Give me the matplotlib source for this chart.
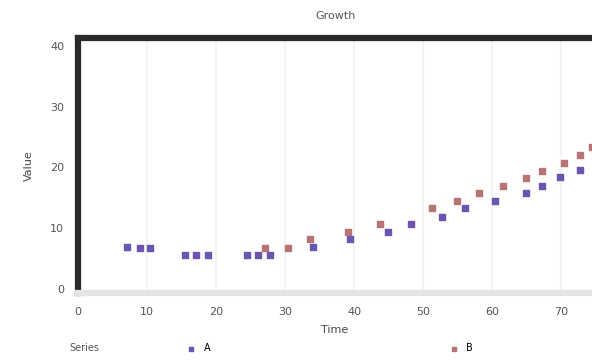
import matplotlib.pyplot as plt

# two series sampled along the x axis
x_a = [7.1, 9.0, 10.4, 15.5, 17.1, 18.8, 24.5, 26.1, 27.8, 34.1, 39.4, 44.9,
       48.3, 52.8, 56.1, 60.4, 64.9, 67.2, 69.9, 72.8]
y_a = [6.9, 6.7, 6.7, 5.6, 5.6, 5.6, 5.6, 5.6, 5.6, 6.9, 8.2, 9.4,
       10.7, 11.9, 13.3, 14.5, 15.8, 17.0, 18.4, 19.6]
x_b = [27.1, 30.4, 33.6, 39.1, 43.8, 51.3, 54.9, 58.1, 61.6, 64.9, 67.2,
       70.4, 72.8, 74.5]
y_b = [6.7, 6.7, 8.2, 9.4, 10.7, 13.3, 14.5, 15.8, 17.0, 18.3, 19.4,
       20.7, 22.1, 23.4]
labels = ["A", "B"]
xticks = [0, 10, 20, 30, 40, 50, 60, 70]
yticks = [0, 10, 20, 30, 40]

fig = plt.figure(figsize=(5.92, 3.6), dpi=100)
ax = fig.add_axes([0.132, 0.186, 0.868, 0.708])

ax.scatter(x_a, y_a, s=20, color="#6a55b0", marker="s", label=labels[0], zorder=3)
ax.scatter(x_b, y_b, s=20, color="#b87474", marker="s", label=labels[1], zorder=3)

ax.set_xlim(0, 74.5)
ax.set_ylim(-0.7, 41.3)
ax.set_xticks(xticks)
ax.set_yticks(yticks)
ax.grid(axis="x", color="#f3f3f3", linewidth=1.5)
ax.set_axisbelow(True)

for side in ["left", "top"]:
    ax.spines[side].set_color("#2a2a2a")
    ax.spines[side].set_linewidth(4.5)
ax.spines["bottom"].set_color("#e4e4e4")
ax.spines["bottom"].set_linewidth(4.5)
ax.spines["right"].set_visible(False)
ax.tick_params(length=0, labelsize=8, colors="#555555", pad=10)

ax.set_title("Growth", fontsize=8, color="#555555", pad=14)
ax.set_xlabel("Time", fontsize=8, color="#444444", labelpad=6)
ax.set_ylabel("Value", fontsize=8, color="#444444", labelpad=12)

# legend laid out in one row under the x label
fig.text(0.118, 0.033, "Series", fontsize=7, color="#555555", va="center")
fig.legend(loc="center left", bbox_to_anchor=(0.30, 0.033), ncol=2, frameon=False,
           fontsize=7, markerscale=0.8, columnspacing=24, handletextpad=0.3,
           borderaxespad=0)

fig.savefig("out.png")
